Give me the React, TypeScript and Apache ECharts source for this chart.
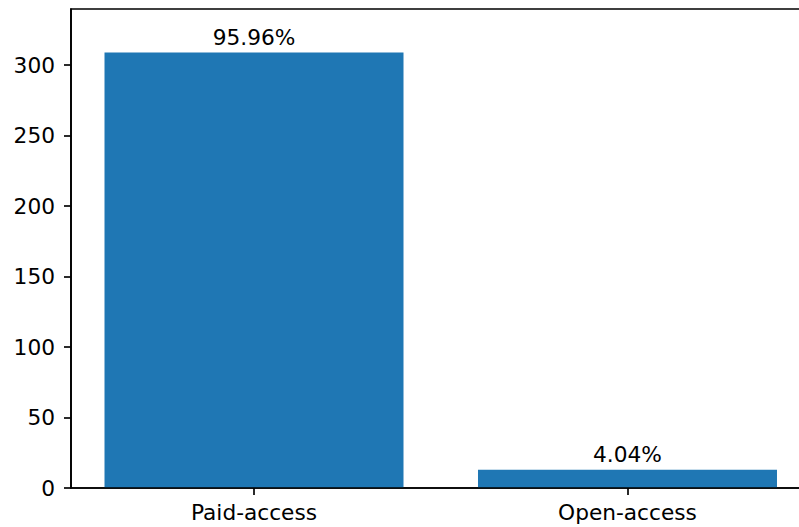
import React, { useEffect, useRef } from "react";
import * as echarts from "echarts";

const categories = ["Paid-access", "Open-access"];
const counts = [309, 13];
const yTicks = [0, 50, 100, 150, 200, 250, 300];
const yMax = 339.9;
const xPositions = [0, 1];

const FONT = "DejaVu Sans";
const FS = 21.7;

export default function App() {
  const ref = useRef<HTMLDivElement>(null);
  useEffect(() => {
    document.body.style.margin = "0";
    const chart = echarts.init(ref.current!, null, { renderer: "svg" });
    const total = counts.reduce((a, b) => a + b, 0);
    chart.setOption({
      animation: false,
      backgroundColor: "#ffffff",
      textStyle: { fontFamily: FONT, color: "#000" },
      grid: {
        left: 71,
        right: -11.5,
        top: 9,
        bottom: 39,
        show: true,
        borderColor: "#000",
        borderWidth: 1.67,
        backgroundColor: "transparent",
        outerBoundsMode: "none",
      },
      xAxis: {
        type: "value",
        min: -0.49,
        max: 1.49,
        z: 5,
        axisLine: { show: true, onZero: false, lineStyle: { color: "#000", width: 1.67 } },
        axisTick: { show: true, length: 7, customValues: xPositions, lineStyle: { color: "#000", width: 1.67 } },
        axisLabel: {
          color: "#000",
          fontFamily: FONT,
          fontSize: FS,
          margin: 13,
          customValues: xPositions,
          formatter: (v: number) => categories[Math.round(v)] ?? "",
        },
        splitLine: { show: false },
      },
      yAxis: {
        type: "value",
        min: 0,
        max: yMax,
        interval: 50,
        z: 5,
        axisLine: { show: true, onZero: false, lineStyle: { color: "#000", width: 1.67 } },
        axisTick: { show: true, length: 7, customValues: yTicks, lineStyle: { color: "#000", width: 1.67 } },
        axisLabel: { color: "#000", fontFamily: FONT, fontSize: FS, margin: 16, customValues: yTicks },
        splitLine: { show: false },
      },
      series: [
        {
          type: "bar",
          data: counts.map((c, i) => [xPositions[i], c]),
          barWidth: 299,
          itemStyle: { color: "#1f77b4" },
          label: {
            show: true,
            position: "top",
            distance: 4,
            color: "#000",
            fontFamily: FONT,
            fontSize: FS,
            formatter: (p: any) => ((p.value[1] / total) * 100).toFixed(2) + "%",
          },
        },
      ],
    });
    return () => chart.dispose();
  }, []);
  return <div ref={ref} style={{ position: "fixed", left: 0, top: 0, width: 799, height: 527 }} />;
}
